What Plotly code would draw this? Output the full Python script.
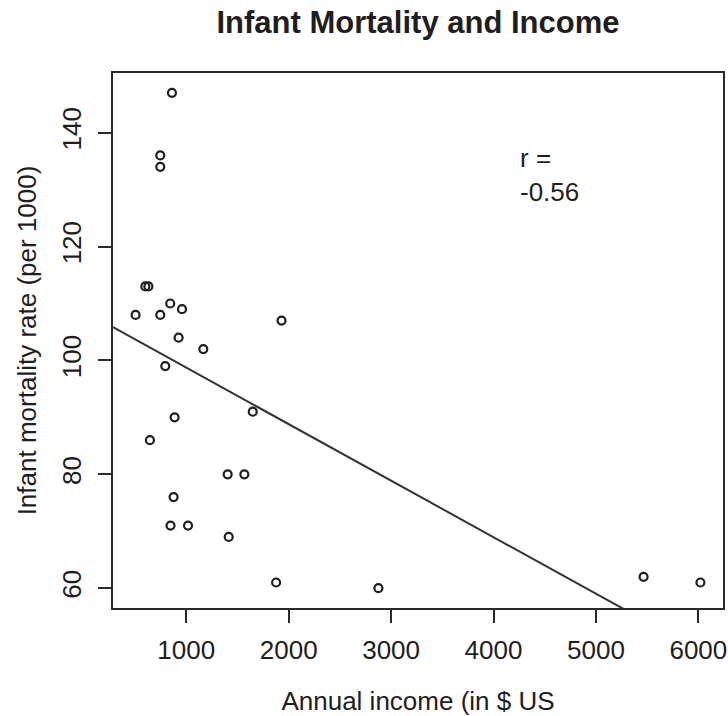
import numpy as np
import plotly.graph_objects as go

# Annual income (US $) and infant mortality (deaths per 1000 live births)
income = [860, 746, 746, 600, 630, 505, 746, 843, 958, 1930, 925, 1166, 795,
          886, 1649, 645, 1404, 1567, 876, 846, 1017, 1414, 1877, 2876, 5465, 6020]
mortality = [147, 136, 134, 113, 113, 108, 108, 110, 109, 107, 104, 102, 99,
             90, 91, 86, 80, 80, 76, 71, 71, 69, 61, 60, 62, 61]

x_ticks = [1000, 2000, 3000, 4000, 5000, 6000]
y_ticks = [60, 80, 100, 120, 140]
r_label = "-0.56"

title_text = "Infant Mortality and Income"
x_title = "Annual income (in $ US"
y_title = "Infant mortality rate (per 1000)"

FONT = "Liberation Sans, Arial, Helvetica, sans-serif"
INK = "#1e1e1e"
TXT = 26


def padded_range(values, frac=0.04):
    lo, hi = min(values), max(values)
    span = hi - lo
    return [lo - frac * span, hi + frac * span]


xr = padded_range(income)
yr = padded_range(mortality)

# least-squares fit, drawn across the full x range and clipped by the axes
slope, intercept = np.polyfit(income, mortality, 1)
fit_x = np.array(xr)
fit_y = intercept + slope * fit_x

fig = go.Figure()
fig.add_trace(go.Scatter(
    x=fit_x, y=fit_y, mode="lines",
    line=dict(color="#333333", width=2),
    hoverinfo="skip", showlegend=False,
))
fig.add_trace(go.Scatter(
    x=income, y=mortality, mode="markers",
    marker=dict(symbol="circle-open", size=8, color=INK, line=dict(width=2.2, color=INK)),
    showlegend=False,
))

# correlation label, two left-aligned lines
fig.add_annotation(x=4235, y=132.6, text="r =<br>" + r_label, showarrow=False,
                   xanchor="left", yanchor="middle", align="left",
                   font=dict(family=FONT, size=TXT, color=INK))

axis_common = dict(
    showgrid=False, zeroline=False,
    showline=True, linecolor="#2a2a2a", linewidth=2, mirror=True,
    ticks="outside", ticklen=13, tickwidth=1.6, tickcolor="#2a2a2a",
    tickfont=dict(family=FONT, size=TXT, color=INK),
    automargin=False,
)

fig.update_xaxes(
    range=xr, tickvals=x_ticks, ticktext=[str(v) for v in x_ticks],
    ticklabelstandoff=5,
    title=dict(text=x_title, font=dict(family=FONT, size=TXT, color=INK), standoff=28),
    **axis_common,
)
fig.update_yaxes(
    range=yr, tickvals=y_ticks, ticktext=[str(v) for v in y_ticks],
    tickangle=-90, ticklabelstandoff=7,
    title=dict(text=y_title, font=dict(family=FONT, size=TXT, color=INK), standoff=12),
    **axis_common,
)

fig.update_layout(
    width=728, height=716,
    margin=dict(l=113, r=5, t=73, b=108),
    paper_bgcolor="white", plot_bgcolor="white",
    title=dict(text=title_text, x=0.5, xref="paper", xanchor="center",
               y=1 - 22 / 716, yref="container", yanchor="middle",
               font=dict(family=FONT, size=31, color=INK, weight="bold")),
)

fig.write_html("out.html")
